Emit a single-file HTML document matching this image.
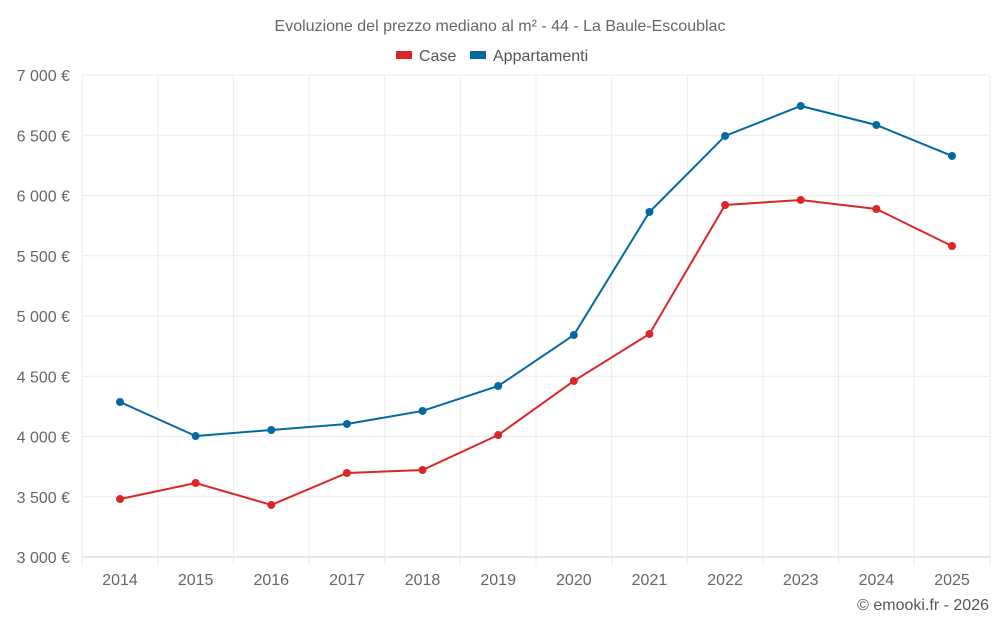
<!DOCTYPE html>
<html><head><meta charset="utf-8">
<style>
body{margin:0;background:#fff;font-family:"Liberation Sans",sans-serif;}
svg text{font-family:"Liberation Sans",sans-serif;}
</style></head>
<body>
<svg id="chart" width="1000" height="625" xmlns="http://www.w3.org/2000/svg">
<text x="500" y="31" text-anchor="middle" font-size="16" fill="#666">Evoluzione del prezzo mediano al m² - 44 - La Baule-Escoublac</text>
<g>
<g><rect x="396" y="51" width="16" height="8" fill="#dc2626"/><text x="419" y="61" font-size="16" fill="#555">Case</text></g>
<g><rect x="470" y="51" width="16" height="8" fill="#0369a1"/><text x="493" y="61" font-size="16" fill="#555">Appartamenti</text></g>
</g>
<g id="grid"></g><g id="axes"></g><g id="series"></g>
<text x="989" y="610" text-anchor="end" font-size="16" fill="#555">© emooki.fr - 2026</text>
</svg>
<script>
const years=[2014,2015,2016,2017,2018,2019,2020,2021,2022,2023,2024,2025];
const caseValues=[3481,3614,3432,3697,3722,4012,4461,4851,5921,5963,5888,5581];
const appValues=[4286,4004,4054,4104,4212,4419,4842,5863,6494,6743,6585,6328];
const yTicks=[3000,3500,4000,4500,5000,5500,6000,6500,7000];
const yTickLabels=["3 000 €","3 500 €","4 000 €","4 500 €","5 000 €","5 500 €","6 000 €","6 500 €","7 000 €"];
const NS="http://www.w3.org/2000/svg";
const x=i=>120+i*(952-120)/(years.length-1);
const y=v=>557-(v-3000)*(557-75)/4000;
function mk(t,a,p){const e=document.createElementNS(NS,t);for(const k in a)e.setAttribute(k,a[k]);p.appendChild(e);return e;}
const grid=document.getElementById('grid'),axes=document.getElementById('axes'),ser=document.getElementById('series');
yTicks.forEach((v,i)=>{
const l=mk('line',{x1:83,x2:990,y1:y(v),y2:y(v),stroke:i==0?'#ccc':'#ebebeb'},grid);


const t=mk('text',{x:70,y:y(v)+6,'text-anchor':'end','font-size':16,fill:'#666'},axes);
t.textContent=yTickLabels[i];


});
years.forEach((yr,i)=>{
const xx=x(i)-37.8;
const l=mk('line',{x1:xx,x2:xx,y1:75,y2:565,stroke:'#ebebeb'},grid);


const t=mk('text',{x:x(i),y:585,'text-anchor':'middle','font-size':16,fill:'#666'},axes);
t.textContent=yr;


});
const l2=mk('line',{x1:990,x2:990,y1:75,y2:565,stroke:'#ebebeb'},grid);


function draw(vals,col,name){
const g=mk('g',{},ser);


const p=mk('polyline',{points:vals.map((v,i)=>x(i)+','+y(v)).join(' '),fill:'none',stroke:col,'stroke-width':2},g);


vals.forEach((v,i)=>{
const c=mk('circle',{cx:x(i),cy:y(v),r:4,fill:col},g);


});
}
draw(caseValues,'#dc2626','case-series');
draw(appValues,'#0369a1','appartamenti-series');
</script>
</body></html>
